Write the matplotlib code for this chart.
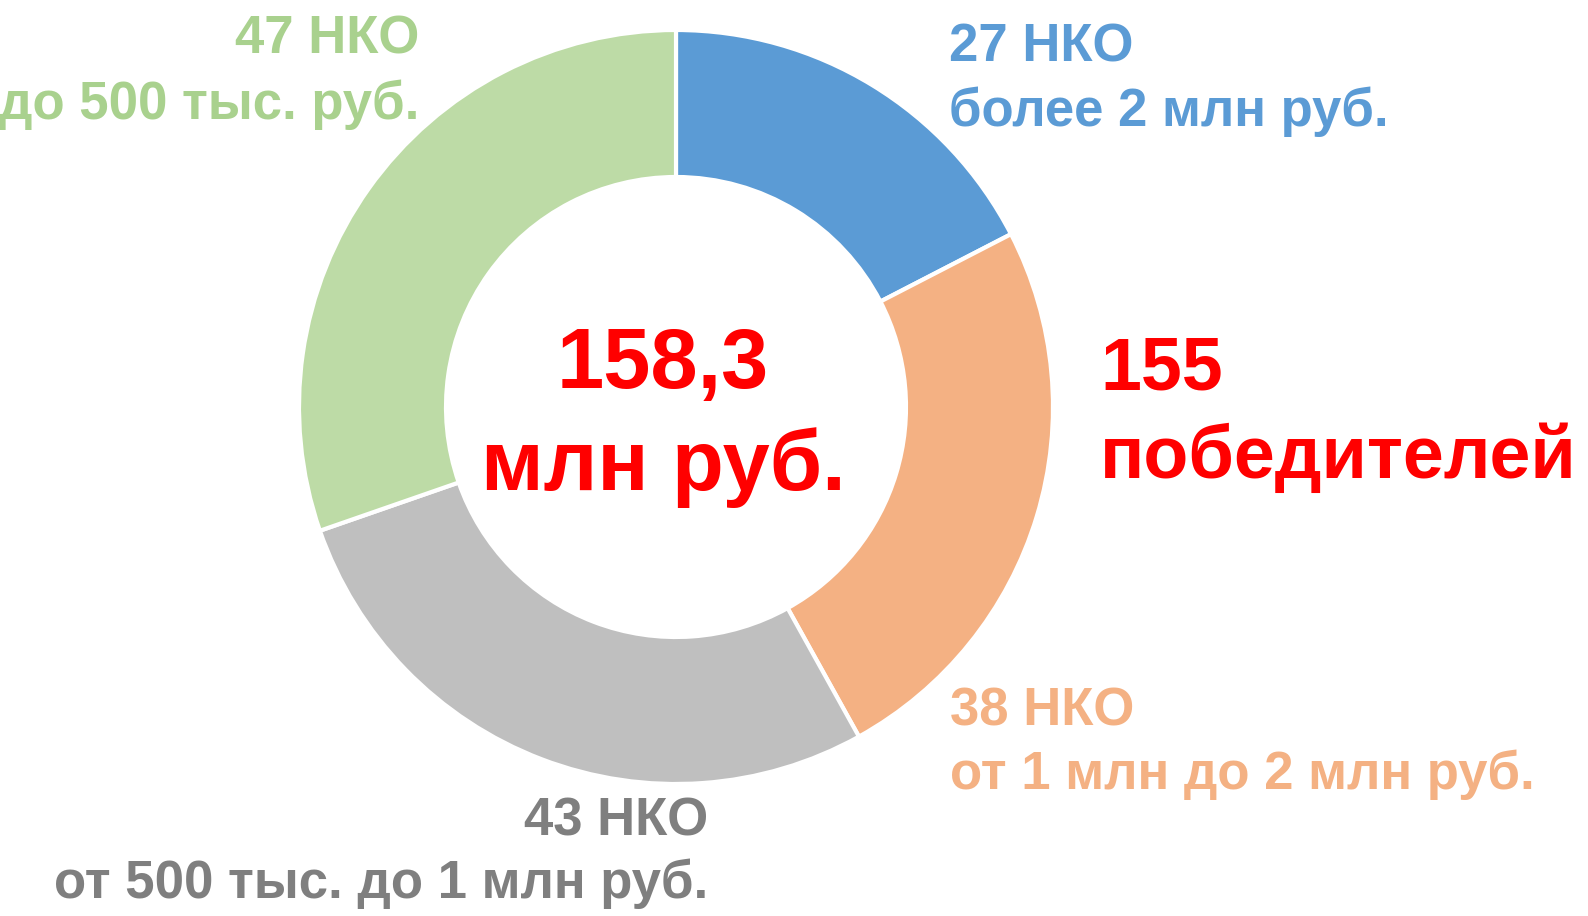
import matplotlib.pyplot as plt

plt.rcParams['font.family'] = ['Liberation Sans', 'DejaVu Sans']

# данные: число НКО по размеру гранта
counts = [27, 38, 43, 47]
colors = ['#5B9BD5', '#F4B183', '#BFBFBF', '#BDDBA6']
text_colors = ['#5B9BD5', '#F4B183', '#7F7F7F', '#A9D18E']
line1 = ['27 НКО', '38 НКО', '43 НКО', '47 НКО']
line2 = ['более 2 млн руб.', 'от 1 млн до 2 млн руб.',
         'от 500 тыс. до 1 млн руб.', 'до 500 тыс. руб.']
total_money = ['158,3', 'млн руб.']
total_winners = ['155', 'победителей']

W, H = 1588, 916
fig = plt.figure(figsize=(W / 100, H / 100), dpi=100)
ax = fig.add_axes([0, 0, 1, 1])

ax.pie(counts, colors=colors, startangle=90, counterclock=False,
       radius=377, center=(676, H - 407),
       wedgeprops=dict(width=147, edgecolor='white', linewidth=3))
ax.set_xlim(0, W)
ax.set_ylim(0, H)
ax.set_aspect('equal')
ax.axis('off')

fs = 38
# позиции подписей (x, базовая линия 1, базовая линия 2, выравнивание)
pos = [(949, 62, 126, 'left'), (950, 725, 789, 'left'),
       (708, 836, 898, 'right'), (419, 54, 119, 'right')]
for i, (x, b1, b2, ha) in enumerate(pos):
    ax.text(x, H - b1, line1[i], color=text_colors[i], fontsize=fs,
            fontweight='bold', ha=ha, va='baseline')
    ax.text(x, H - b2, line2[i], color=text_colors[i], fontsize=fs,
            fontweight='bold', ha=ha, va='baseline')

ax.text(663, H - 388, total_money[0], color='#FF0000', fontsize=61,
        fontweight='bold', ha='center', va='baseline')
ax.text(663, H - 490, total_money[1], color='#FF0000', fontsize=61,
        fontweight='bold', ha='center', va='baseline')

ax.text(1100, H - 390, total_winners[0], color='#FF0000', fontsize=53,
        fontweight='bold', ha='left', va='baseline')
ax.text(1100, H - 478, total_winners[1], color='#FF0000', fontsize=53,
        fontweight='bold', ha='left', va='baseline')

fig.savefig('out.png', dpi=100, facecolor='white')
